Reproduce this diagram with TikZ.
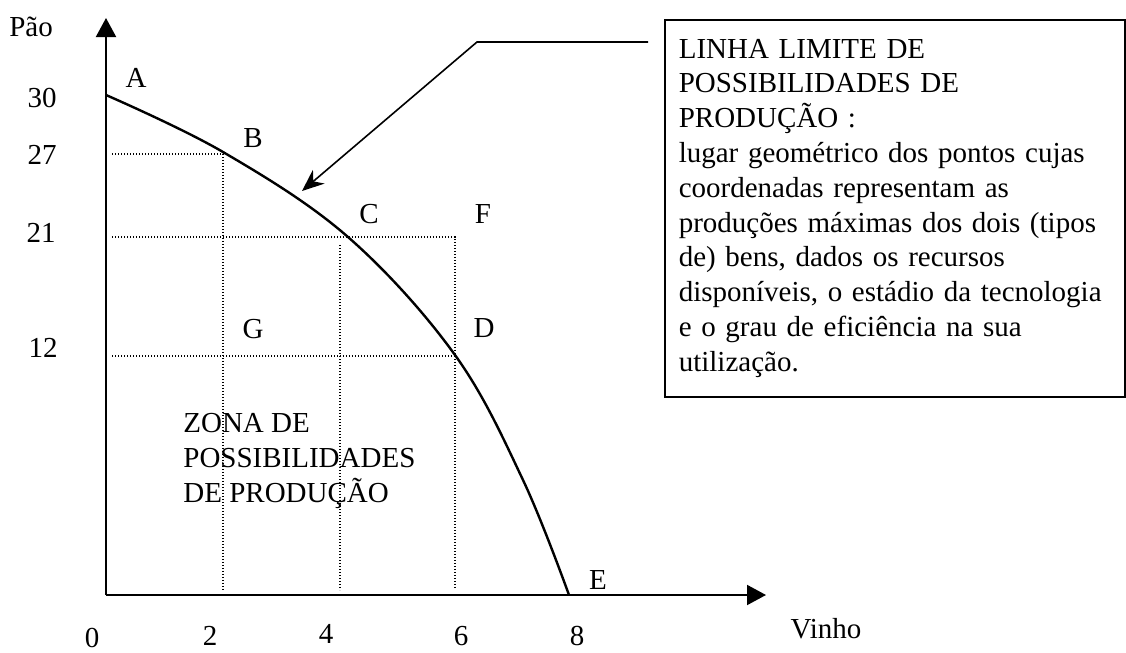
\documentclass[tikz,border=0pt]{standalone}
\usepackage{fontspec}
\setmainfont{Liberation Serif}
\usetikzlibrary{arrows.meta}

\begin{document}
\begin{tikzpicture}[x=0.5pt, y=-0.5pt,
                every node/.style={font=\fontsize{14.5}{17.4}\selectfont, inner sep=0pt},
                eixo/.style={line width=1pt, -{Triangle[length=9.5pt, width=10pt]}},
                grade/.style={line width=0.6pt, dash pattern=on 0.6pt off 0.9pt}]
                \useasboundingbox (0,0) rectangle (1126,653);
                \coordinate (O) at (106,595);
                \coordinate (topo) at (106,18);
                \coordinate (fim) at (766,595);
                \draw[eixo] (O) -- (topo);
                \draw[eixo] (O) -- (fim);
                \draw[grade] (112,154) -- (223,154) -- (223,590);
                \draw[grade] (112,237) -- (455,237) -- (455,588);
                \draw[grade] (340,245) -- (340,590);
                \draw[grade] (112,356) -- (455,356);
                \draw[line width=1.2pt] plot[smooth, tension=0.6] coordinates {(106,95) (223,152) (348,237) (455,355) (523,480) (569,595)};
                \node[anchor=base] (pao) at (31,36) {Pão};
                \node[anchor=base] (y30) at (42,107) {30};
                \node[anchor=base] (y27) at (42,164) {27};
                \node[anchor=base] (y21) at (41,242) {21};
                \node[anchor=base] (y12) at (43,357) {12};
                \node[anchor=base] (x0) at (92,647) {0};
                \node[anchor=base] (x2) at (210,645) {2};
                \node[anchor=base] (x4) at (326,643) {4};
                \node[anchor=base] (x6) at (461,645) {6};
                \node[anchor=base] (x8) at (577,645) {8};
                \node[anchor=base] (vinho) at (826,638) {Vinho};
                \node[anchor=base] (A) at (136,87) {A};
                \node[anchor=base] (B) at (253,147) {B};
                \node[anchor=base] (C) at (369,223) {C};
                \node[anchor=base] (F) at (483,223) {F};
                \node[anchor=base] (G) at (253,338) {G};
                \node[anchor=base] (D) at (484,337) {D};
                \node[anchor=base] (E) at (598,589) {E};
                \node[anchor=base west, align=left] (zona) at (183,502) {ZONA DE\\POSSIBILIDADES\\DE PRODUÇÃO};
                \node[draw, line width=0.8pt, anchor=north west, inner xsep=7pt, text width=216pt,
                        minimum height=188.5pt, align=left] (caixa) at (664,19)
                        {LINHA LIMITE DE\\POSSIBILIDADES DE\\PRODUÇÃO :\\lugar geométrico dos pontos cujas\\coordenadas representam as\\produções máximas dos dois (tipos\\de) bens, dados os recursos\\disponíveis, o estádio da tecnologia\\e o grau de eficiência na sua\\utilização.};
                \coordinate (cinicio) at (648,42);
                \coordinate (cdobra) at (477,42);
                \coordinate (cponta) at (302,191);
                \draw[line width=0.8pt, -{Stealth[length=11pt, width=9pt]}] (cinicio) -- (cdobra) -- (cponta);
            \end{tikzpicture}
\end{document}
